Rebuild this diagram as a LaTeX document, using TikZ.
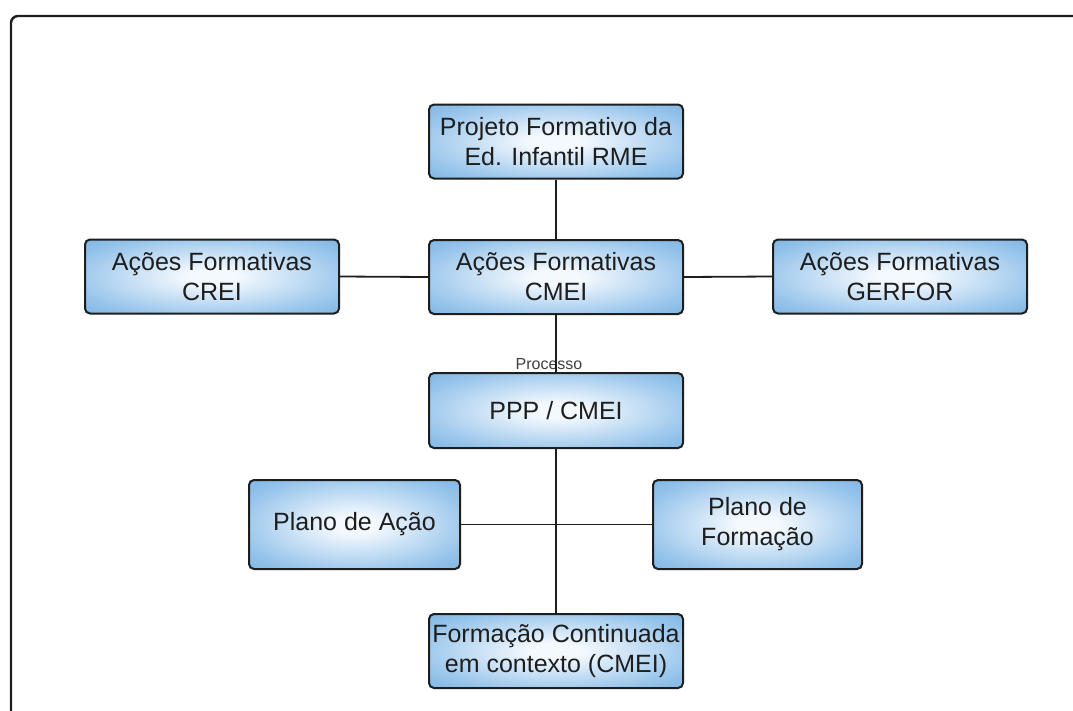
\documentclass[tikz,border=0pt]{standalone}
\usepackage{fontspec}
\setmainfont{Liberation Sans}
\definecolor{boxmid}{RGB}{150,196,235}
\definecolor{boxedge}{RGB}{88,156,214}
\definecolor{boxcorner}{RGB}{72,143,208}
\definecolor{boxlight}{RGB}{244,249,254}
\definecolor{ink}{RGB}{30,30,30}
% light centre fading to blue at the sides; the shading square spans +-50bp
\pgfdeclareradialshading{boxshade}{\pgfpoint{0bp}{0bp}}{%
  color(0bp)=(boxlight); color(5bp)=(boxlight);
  color(28bp)=(boxmid); color(50bp)=(boxedge); color(71bp)=(boxcorner)}
\begin{document}
\begin{tikzpicture}[x=1pt,y=-1pt,
  blockbox/.style={draw=ink, line width=2pt, rounded corners=5pt,
    shading=boxshade, align=center,
    text=ink, font=\fontsize{25}{30}\selectfont,
    minimum width=254pt, minimum height=74pt, inner sep=0pt},
  link/.style={draw=ink, line width=1.8pt}]
\useasboundingbox (0,0) rectangle (1073,710);
\fill[white] (0,0) rectangle (1073,710);
% outer frame, open to the right and bottom
\draw[ink, line width=2.4pt, rounded corners=7pt] (11,730) |- (1090,16);

% blocks
\node[blockbox] (proj) at (556,141.5) {Projeto Formativo da\\Ed. Infantil RME};
\node[blockbox] (cmei) at (556,277) {Ações Formativas\\CMEI};
\node[blockbox] (crei) at (212,276.5) {Ações Formativas\\CREI};
\node[blockbox] (gerfor) at (900,276.5) {Ações Formativas\\GERFOR};
\node[blockbox, minimum height=75pt] (ppp) at (556,410.5) {PPP / CMEI};
\node[blockbox, minimum width=211pt, minimum height=89pt] (acao) at (354.5,524.5) {Plano de Ação};
\node[blockbox, minimum width=209pt, minimum height=89pt] (form) at (757.5,524.5) {Plano de\\Formação};
\node[blockbox] (cont) at (556,651) {Formação Continuada\\em contexto (CMEI)};

% label on the CMEI -> PPP link
\node[text=ink!85, font=\fontsize{16}{18}\selectfont, inner sep=0pt] (proc) at (549,364) {Processo};

% connectors
\draw[link] (proj.south) -- (cmei.north);
\draw[link] (crei.east) -- (cmei.west);
\draw[link] (cmei.east) -- (gerfor.west);
\draw[link] (cmei.south) -- (ppp.north);
\draw[link] (ppp.south) -- (cont.north);
\draw[link] (acao.east) -- (form.west);
\end{tikzpicture}
\end{document}
